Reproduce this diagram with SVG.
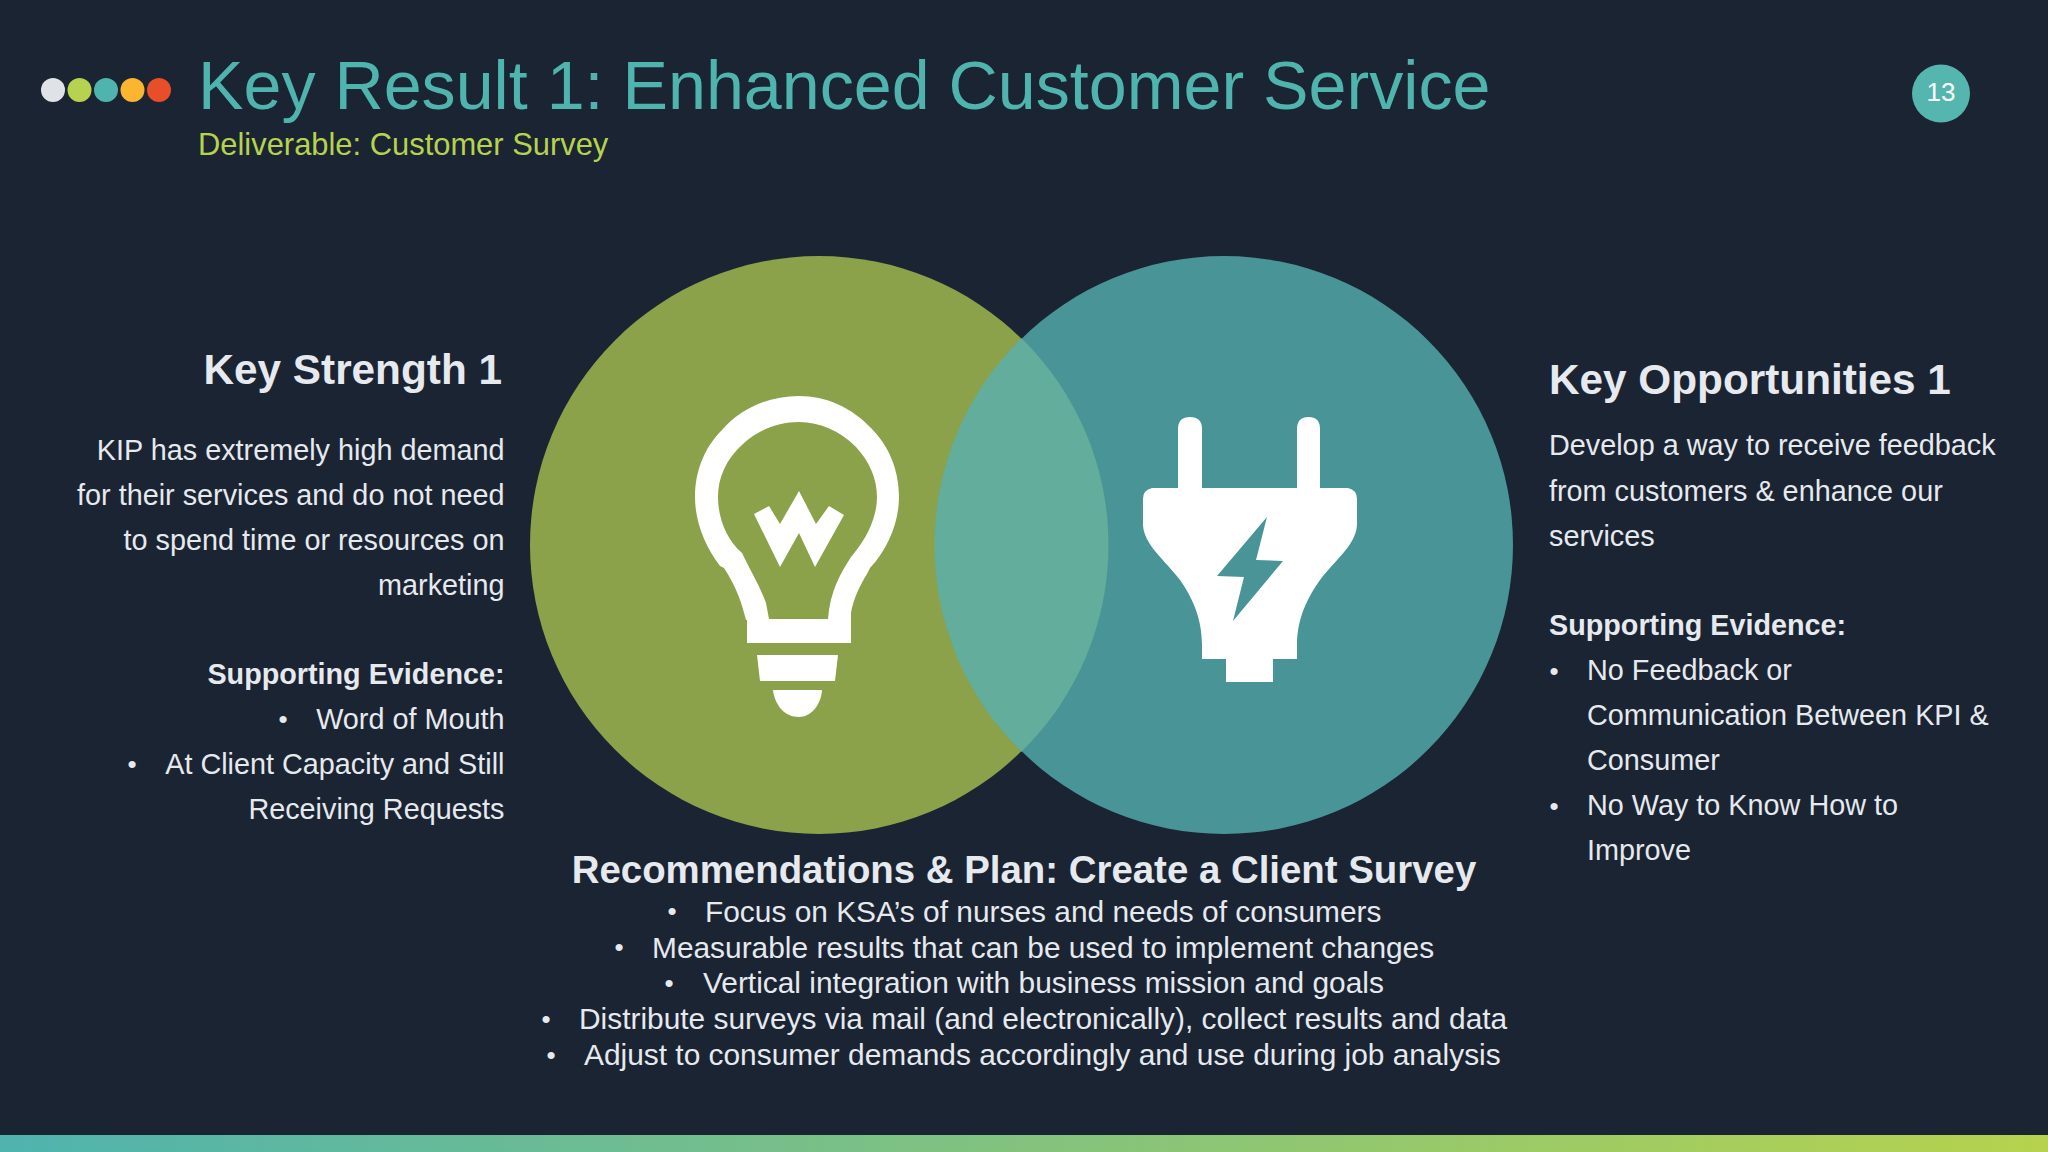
<svg xmlns="http://www.w3.org/2000/svg" width="2048" height="1152" viewBox="0 0 2048 1152">
<defs>
<linearGradient id="bar" x1="0" y1="0" x2="1" y2="0"><stop offset="0" stop-color="#4fb3ae"/><stop offset="1" stop-color="#b6d24e"/></linearGradient>
</defs>
<style>
text{font-family:"Liberation Sans",Arial,sans-serif;fill:#e6e9ed}
.b{font-size:28.800px}
.d{font-size:26px}
.h{font-size:42.300px;font-weight:bold}
.s{font-size:28.750px;font-weight:bold}
.c{font-size:29.880px}
.r{text-anchor:end}
</style>
<rect width="2048" height="1152" fill="#1a2433"/>
<rect y="1135" width="2048" height="17" fill="url(#bar)"/>
<g id="dots">
<circle cx="53" cy="90" r="12" fill="#dfe2e6"/><circle cx="79.500" cy="90" r="12" fill="#b6d24e"/><circle cx="106" cy="90" r="12" fill="#4fb3ae"/><circle cx="132.500" cy="90" r="12" fill="#fbb52e"/><circle cx="159" cy="90" r="12" fill="#e84e27"/>
</g>
<text id="title" x="198" y="109" font-size="68.200" style="fill:#4fb3ae">Key Result 1: Enhanced Customer Service</text>
<text id="subtitle" x="198" y="155" font-size="30.900" style="fill:#b6d24e">Deliverable: Customer Survey</text>
<g id="badge"><circle cx="1941" cy="93.500" r="29" fill="#55b5af"/><text x="1941" y="100.500" font-size="26" text-anchor="middle" style="fill:#fff">13</text></g>
<g id="venn">
<circle cx="819" cy="545" r="289" fill="#8ba24b"/>
<circle cx="1224" cy="545" r="289" fill="#489497"/>
<path d="M1021.500 338.300A289 289 0 0 1 1021.500 751.700A289 289 0 0 1 1021.500 338.300Z" fill="#62ad9c"/>
</g>
<g id="bulb" fill="#fff">
<path fill-rule="evenodd" d="M799 396C769 396 741 408 722 430C703 449 695 473 695 497C695 522 705 546 720 566L724 568C737 588 742 604 746 620L747 620L747 643L851 643L851 613C853 600 860 585 867 574L870 568C888 549 899 522 899 497C899 470 889 446 871 428C851 407 826 396 799 396ZM799 422C820 422 840 431 856 447C869 461 877 478 877 497C877 516 868 536 855 552L851 557C840 574 830 592 828 619L769 619L766 603C760 586 750 570 742 553C727 540 718 519 718 497C718 478 726 459 743 444C758 430 778 422 799 422Z"/>
<path d="M754 514L769 506L780 524L799 491L816 524L829 506L844 515L815 567L799 533L780 567Z"/>
<path d="M757 655L838 655L835 681L760 681Z"/>
<path d="M773 690L822 690C821 706 810 717 799 717C785 717 775 706 773 690Z"/>
</g>
<g id="plug" fill="#fff">
<path fill-rule="evenodd" d="M1178 488L1178 429Q1178 417 1190 417Q1202 417 1202 429L1202 488L1297 488L1297 429Q1297 417 1308.500 417Q1320 417 1320 429L1320 488L1348 488Q1357 490 1357 499L1357 525C1356 545 1335 560 1320 580C1308 597 1297 618 1297 645L1297 659L1273 659L1273 682L1226 682L1226 659L1202 659L1202 645C1202 618 1192 597 1180 580C1165 560 1144 545 1143 525L1143 499Q1143 490 1152 488ZM1267 517L1217 576L1244 577L1233 621L1283 561L1256 560Z"/>
</g>
<g id="strength">
<text class="h r" x="502" y="384">Key Strength 1</text>
<text class="b r" x="504.500" y="460">KIP has extremely high demand</text>
<text class="b r" x="504.500" y="505">for their services and do not need</text>
<text class="b r" x="504.500" y="549.500">to spend time or resources on</text>
<text class="b r" x="504.500" y="594.500">marketing</text>
<text class="s r" x="504.500" y="684">Supporting Evidence:</text>
<text class="d" x="278.500" y="727.500">•</text><text class="b r" x="504.500" y="728.500">Word of Mouth</text>
<text class="d" x="127.500" y="772.500">•</text><text class="b r" x="504.500" y="773.500">At Client Capacity and Still</text>
<text class="b r" x="504.500" y="818.500">Receiving Requests</text>
</g>
<g id="opportunities">
<text class="h" x="1549" y="393.500">Key Opportunities 1</text>
<text class="b" x="1549" y="455">Develop a way to receive feedback</text>
<text class="b" x="1549" y="500.500">from customers &amp; enhance our</text>
<text class="b" x="1549" y="545.500">services</text>
<text class="s" x="1549" y="635">Supporting Evidence:</text>
<text class="d" x="1549.500" y="679.500">•</text><text class="b" x="1587" y="680">No Feedback or</text>
<text class="b" x="1587" y="725">Communication Between KPI &amp;</text>
<text class="b" x="1587" y="770">Consumer</text>
<text class="d" x="1549.500" y="814.500">•</text><text class="b" x="1587" y="815">No Way to Know How to</text>
<text class="b" x="1587" y="860">Improve</text>
</g>
<g id="plan">
<text x="1024" y="883" font-size="38.400" font-weight="bold" text-anchor="middle">Recommendations &amp; Plan: Create a Client Survey</text>
<text class="d" x="667.500" y="919.500">•</text><text class="c" x="705" y="922">Focus on KSA’s of nurses and needs of consumers</text>
<text class="d" x="614.500" y="955.500">•</text><text class="c" x="652" y="958">Measurable results that can be used to implement changes</text>
<text class="d" x="664.500" y="991.500">•</text><text class="c" x="703" y="993">Vertical integration with business mission and goals</text>
<text class="d" x="541.500" y="1027.500">•</text><text class="c" x="579" y="1029">Distribute surveys via mail (and electronically), collect results and data</text>
<text class="d" x="546.500" y="1063.500">•</text><text class="c" x="584" y="1065">Adjust to consumer demands accordingly and use during job analysis</text>
</g>
</svg>
